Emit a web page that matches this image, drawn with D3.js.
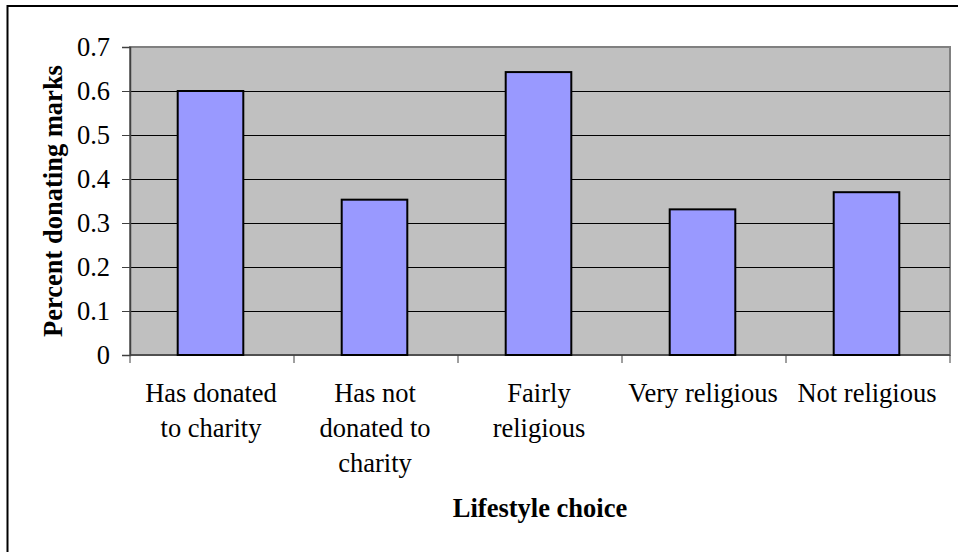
<!DOCTYPE html>
<html>
<head>
<meta charset="utf-8">
<script src="https://cdn.jsdelivr.net/npm/d3@7"></script>
<style>
  html, body { margin: 0; padding: 0; background: #fff; }
  svg { display: block; }
  text { font-family: "Liberation Serif", "Times New Roman", serif; fill: #000; }
</style>
</head>
<body>
<svg id="chart" width="958" height="552"></svg>
<script>
// Lifestyle categories (line breaks mark where each axis label wraps)
const categories = [
  "Has donated\nto charity",
  "Has not\ndonated to\ncharity",
  "Fairly\nreligious",
  "Very religious",
  "Not religious"
];
// Share of respondents donating marks in each group
const values = [0.600, 0.353, 0.643, 0.331, 0.370];
const yTicks = [0, 0.1, 0.2, 0.3, 0.4, 0.5, 0.6, 0.7];
const yTitle = "Percent donating marks";
const xTitle = "Lifestyle choice";

const FONT = 26.5;
const svg = d3.select("#chart");
const plot = { left: 130, top: 47, right: 950, bottom: 355 };

// Outer frame of the chart area
svg.append("rect")
  .attr("x", 7.5).attr("y", 6)
  .attr("width", 1000).attr("height", 600)
  .attr("fill", "#fff").attr("stroke", "#000").attr("stroke-width", 2);

const x = d3.scaleBand()
  .domain(categories)
  .range([plot.left, plot.right])
  .padding(0);

const y = d3.scaleLinear()
  .domain([0, 0.7])
  .range([plot.bottom, plot.top]);

// Plot background
svg.append("rect")
  .attr("x", plot.left).attr("y", plot.top)
  .attr("width", plot.right - plot.left)
  .attr("height", plot.bottom - plot.top)
  .attr("fill", "#C0C0C0")
  .attr("stroke", "#808080").attr("stroke-width", 2);

// Horizontal gridlines
svg.append("g")
  .selectAll("line")
  .data(yTicks.filter(t => t > 0 && t < 0.7))
  .join("line")
  .attr("x1", plot.left).attr("x2", plot.right)
  .attr("y1", d => Math.round(y(d)) + 0.5)
  .attr("y2", d => Math.round(y(d)) + 0.5)
  .attr("stroke", "#000").attr("stroke-width", 1);

// Y axis
const yAxis = svg.append("g")
  .attr("transform", `translate(${plot.left},0)`)
  .call(d3.axisLeft(y).tickValues(yTicks).tickFormat(d => d === 0 ? "0" : d3.format(".1f")(d)).tickSize(8).tickPadding(12));
yAxis.select(".domain").attr("stroke", "#404040").attr("stroke-width", 1.5);
yAxis.selectAll(".tick line").attr("stroke", "#404040");
yAxis.selectAll(".tick text")
  .style("font-family", "'Liberation Serif', 'Times New Roman', serif")
  .style("font-size", FONT + "px")
  .attr("fill", "#000");

// X axis (ticks at category boundaries)
const boundaries = categories.map(c => x(c)).concat([plot.right]);
svg.append("line")
  .attr("x1", plot.left).attr("x2", plot.right)
  .attr("y1", plot.bottom).attr("y2", plot.bottom)
  .attr("stroke", "#404040").attr("stroke-width", 1.5);
svg.append("g")
  .selectAll("line")
  .data(boundaries)
  .join("line")
  .attr("x1", d => d).attr("x2", d => d)
  .attr("y1", plot.bottom).attr("y2", plot.bottom + 8)
  .attr("stroke", "#404040").attr("stroke-width", 1);

// Bars
const barW = x.bandwidth() * 0.4;
svg.append("g")
  .selectAll("rect")
  .data(values)
  .join("rect")
  .attr("x", (d, i) => x(categories[i]) + (x.bandwidth() - barW) / 2 - 1.5)
  .attr("y", d => y(d))
  .attr("width", barW)
  .attr("height", d => y(0) - y(d))
  .attr("fill", "#9999FF")
  .attr("stroke", "#000").attr("stroke-width", 2);

// Category labels
const labels = svg.append("g")
  .selectAll("text")
  .data(categories)
  .join("text")
  .attr("text-anchor", "middle")
  .style("font-size", FONT + "px")
  .attr("x", d => x(d) + x.bandwidth() / 2 - 1)
  .attr("y", 402);
labels.selectAll("tspan")
  .data(d => d.split("\n"))
  .join("tspan")
  .attr("x", function () { return d3.select(this.parentNode).attr("x"); })
  .attr("dy", (d, i) => i === 0 ? 0 : 35)
  .text(d => d);

// Axis titles
svg.append("text")
  .attr("transform", `translate(62,${(plot.top + plot.bottom) / 2}) rotate(-90)`)
  .attr("text-anchor", "middle")
  .style("font-size", FONT + "px").style("font-weight", "bold")
  .text(yTitle);

svg.append("text")
  .attr("x", (plot.left + plot.right) / 2)
  .attr("y", 517)
  .attr("text-anchor", "middle")
  .style("font-size", FONT + "px").style("font-weight", "bold")
  .text(xTitle);
</script>
</body>
</html>
